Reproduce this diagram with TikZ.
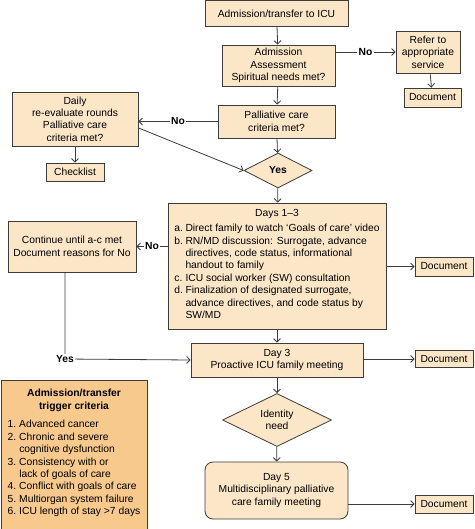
\documentclass[tikz,border=0pt]{standalone}
\usepackage{fontspec}
\setmainfont{Liberation Sans}
\usetikzlibrary{shapes.geometric,arrows.meta}
\definecolor{boxfill}{RGB}{252,230,200}
\definecolor{trigfill}{RGB}{247,201,140}
\definecolor{edge}{RGB}{60,60,60}

\begin{document}
\begin{tikzpicture}[x=1pt, y=-1pt, >={Straight Barb[length=3.5pt,width=7pt]},
  box/.style={draw=edge, fill=boxfill, line width=0.8pt, align=center, inner sep=2pt,
    font=\fontsize{10.3}{12.4}\selectfont},
  dia/.style={box, diamond, aspect=2, inner sep=0pt},
  lbl/.style={fill=white, inner sep=1.5pt, font=\bfseries\fontsize{10.3}{12.4}\selectfont},
  link/.style={draw=edge, line width=0.8pt, ->}]
\useasboundingbox (0,0) rectangle (474,529);
% main column
\node[box, minimum width=143, minimum height=26] (adm) at (276.5,13.5) {Admission/transfer to ICU};
\node[box, minimum width=113, minimum height=41] (assess) at (278.5,65.5) {Admission\\Assessment\\Spiritual needs met?};
\node[box, minimum width=64, minimum height=42] (refer) at (428,52) {Refer to\\appropriate\\service};
\node[box, minimum width=57, minimum height=19] (doc1) at (432.5,97.5) {Document};
\node[box, minimum width=117, minimum height=33] (pall) at (276.5,121.5) {Palliative care\\criteria met?};
\node[box, minimum width=126, minimum height=54] (daily) at (75,119) {Daily\\re-evaluate rounds\\Palliative care\\criteria met?};
\node[box, minimum width=58, minimum height=18] (check) at (75,172) {Checklist};
\node[dia, minimum width=68, minimum height=35, font=\bfseries\fontsize{10.3}{12.4}\selectfont] (yes) at (278,170.5) {Yes};
\node[box, minimum width=218, minimum height=126] (days) at (277,266)
  {Days 1--3\\[3pt]
   \begin{tabular}{@{}l@{\hspace{2.5pt}}l@{}}
   a. & Direct family to watch ‘Goals of care’ video\\
   b. & RN/MD discussion: Surrogate, advance\\
      & directives, code status, informational\\
      & handout to family\\
   c. & ICU social worker (SW) consultation\\
   d. & Finalization of designated surrogate,\\
      & advance directives, and code status by\\
      & SW/MD
   \end{tabular}};
\node[box, minimum width=128, minimum height=51] (cont) at (72,246.5) {Continue until a-c met\\Document reasons for No};
\node[box, minimum width=58, minimum height=19] (doc2) at (444,266.5) {Document};
\node[box, minimum width=172, minimum height=34] (day3) at (277,360) {Day 3\\Proactive ICU family meeting};
\node[box, minimum width=58, minimum height=17] (doc3) at (444,359) {Document};
\node[dia, minimum width=109, minimum height=53] (iden) at (277,420) {Identity\\need};
\node[box, rounded corners=8pt, minimum width=143, minimum height=57] (day5) at (276.5,490.5) {Day 5\\Multidisciplinary palliative\\care family meeting};
\node[box, minimum width=58, minimum height=18] (doc4) at (444,504) {Document};
% trigger criteria
\draw[draw=edge, fill=trigfill, line width=0.8pt] (1,380) rectangle (147,545);
\node[anchor=north, align=center, inner sep=0pt,
  font=\fontsize{10.3}{12.4}\selectfont] (trig) at (74,389)
  {\textbf{Admission/transfer}\\\textbf{trigger criteria}\\[7pt]
   \begin{tabular}{@{}l@{\hspace{3pt}}l@{}}
   1. & Advanced cancer\\
   2. & Chronic and severe\\
      & cognitive dysfunction\\
   3. & Consistency with or\\
      & lack of goals of care\\
   4. & Conflict with goals of care\\
   5. & Multiorgan system failure\\
   6. & ICU length of stay >7 days
   \end{tabular}};
% connectors
\coordinate (ybend) at (65,359);
\draw[link] (adm) -- (assess);
\draw[link] (refer.west -| assess.east) -- node[lbl] {No} (refer.west);
\draw[link] (refer) -- (doc1);
\draw[link] (assess) -- (pall);
\draw[link] (pall.west) -- node[lbl] {No} (pall.west -| daily.east);
\draw[link] (daily.-8) -- (yes.west);
\draw[link] (daily) -- (check);
\draw[link] (pall) -- (yes);
\draw[link] (yes) -- (days);
\draw[link] (days.west |- cont.east) -- node[lbl] {No} (cont.east);
\draw[link] (days.east |- doc2.west) -- (doc2.west);
\draw[link] (cont.south -| ybend) -- (ybend) node[lbl] {Yes} -- (day3.west);
\draw[link] (days) -- (day3);
\draw[link] (day3.east |- doc3.west) -- (doc3.west);
\draw[link] (day3) -- (iden);
\draw[link] (iden) -- (day5);
\draw[link] (doc4.west -| day5.east) -- (doc4.west);
\end{tikzpicture}
\end{document}
